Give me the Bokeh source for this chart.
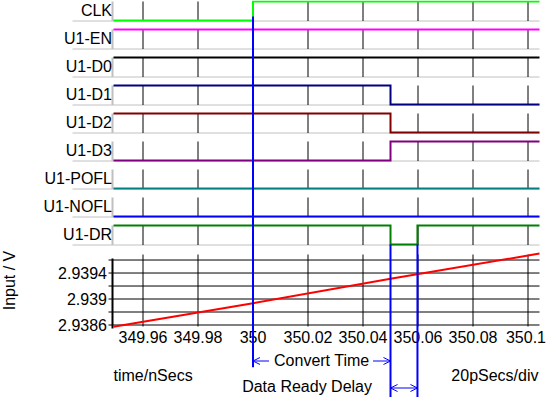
import math
from bokeh.plotting import figure
from bokeh.models import Range1d, Arrow, OpenHead
from bokeh.core.properties import value
from bokeh.embed import file_html
from bokeh.resources import INLINE

# ---------------- data ----------------
T_START, T_END = 349.94927, 350.10418          # visible time window (ns)
X_TICKS = [349.96, 349.98, 350.0, 350.02, 350.04, 350.06, 350.08, 350.1]
X_TICK_LABELS = ["349.96", "349.98", "350", "350.02", "350.04", "350.06", "350.08", "350.1"]

SIGNAL_NAMES = ["CLK", "U1-EN", "U1-D0", "U1-D1", "U1-D2", "U1-D3", "U1-POFL", "U1-NOFL", "U1-DR"]
SIGNAL_COLORS = ["#00ff00", "#ff00ff", "#000000", "#000080", "#800000",
                 "#800080", "#008080", "#0000ff", "#008000"]

# logic traces: edge times (ns) and the level held from that time on
CLK_TIMES = [349.94927, 350.0];             CLK_LEVELS = [0, 1]
EN_TIMES = [349.94927];                     EN_LEVELS = [1]
D0_TIMES = [349.94927];                     D0_LEVELS = [1]
D1_TIMES = [349.94927, 350.05];             D1_LEVELS = [1, 0]
D2_TIMES = [349.94927, 350.05];             D2_LEVELS = [1, 0]
D3_TIMES = [349.94927, 350.05];             D3_LEVELS = [0, 1]
POFL_TIMES = [349.94927];                   POFL_LEVELS = [0]
NOFL_TIMES = [349.94927];                   NOFL_LEVELS = [0]
DR_TIMES = [349.94927, 350.05, 350.0598];   DR_LEVELS = [1, 0, 1]

SIGNAL_TIMES = [CLK_TIMES, EN_TIMES, D0_TIMES, D1_TIMES, D2_TIMES,
                D3_TIMES, POFL_TIMES, NOFL_TIMES, DR_TIMES]
SIGNAL_LEVELS = [CLK_LEVELS, EN_LEVELS, D0_LEVELS, D1_LEVELS, D2_LEVELS,
                 D3_LEVELS, POFL_LEVELS, NOFL_LEVELS, DR_LEVELS]

# analog input (V)
INPUT_TIME = [349.94927, 350.0, 350.05, 350.1, 350.10418]
INPUT_V = [2.938574, 2.938935, 2.939311, 2.939669, 2.939700]
V_LO, V_HI = 2.938577, 2.939685                 # analog window
V_GRID = [2.9386, 2.9388, 2.939, 2.9392, 2.9394, 2.9396]
V_TICKS = [2.9386, 2.939, 2.9394]
V_TICK_LABELS = ["2.9386", "2.939", "2.9394"]

CURSOR_TIMES = [350.0, 350.05, 350.0598]        # CLK edge, DR fall, DR rise

# ---------------- layout (canvas pixels) ----------------
W, H = 546, 397
PX_T0, PX_T1 = 113.0, 539.0
ROW_BASE_PX = [20.5 + 28 * i for i in range(9)]
ROW_SWING_PX = 19.0
ROW_LOW_GAP_PX = 0.5
PX_V_LO, PX_V_HI = 326.0, 254.0

FONT = value("Liberation Sans")
FSIZE = value("16px")
GRAY = "#c0c0c0"
BLUE = "#0000ff"

kx = (PX_T1 - PX_T0) / (T_END - T_START)
ky = (PX_V_LO - PX_V_HI) / (V_HI - V_LO)


def t_at(px):
    return T_START + (px - PX_T0) / kx


def v_at(py):
    return V_LO + (PX_V_LO - py) / ky


p = figure(width=W, height=H,
           x_range=Range1d(t_at(0), t_at(W)),
           y_range=Range1d(v_at(H), v_at(0)),
           output_backend="svg", toolbar_location=None, tools="",
           x_axis_location=None, y_axis_location=None,
           min_border=0, outline_line_color=None,
           background_fill_color="white", border_fill_color="white",
           styles={"position": "absolute", "left": "0px", "top": "0px"})
p.grid.visible = False

ranges = {}
for i in range(len(SIGNAL_NAMES)):
    low_px = ROW_BASE_PX[i] - ROW_LOW_GAP_PX
    ranges[f"row{i}"] = Range1d(start=(low_px - H) / ROW_SWING_PX, end=low_px / ROW_SWING_PX)
p.extra_y_ranges = ranges
BASE_LEVEL = -ROW_LOW_GAP_PX / ROW_SWING_PX
LABEL_LEVEL = (10.5 - ROW_LOW_GAP_PX) / ROW_SWING_PX

txt = dict(text_font=FONT, text_font_size=FSIZE, text_color="black")

# ---------- logic rows ----------
for i, name in enumerate(SIGNAL_NAMES):
    rn = f"row{i}"
    p.segment(x0=[t_at(72)], y0=[BASE_LEVEL], x1=[T_END], y1=[BASE_LEVEL],
              line_color=GRAY, line_width=1, y_range_name=rn)
    p.segment(x0=[t_at(112)], y0=[1], x1=[t_at(112)], y1=[BASE_LEVEL],
              line_color=GRAY, line_width=2, y_range_name=rn)
    n = len(X_TICKS)
    p.segment(x0=X_TICKS, y0=[1] * n, x1=X_TICKS, y1=[BASE_LEVEL] * n,
              line_color="black", line_width=1, y_range_name=rn)
    p.text(x=[t_at(111.5)], y=[LABEL_LEVEL], text=[name], text_align="right",
           text_baseline="middle", y_range_name=rn, **txt)

for i, name in enumerate(SIGNAL_NAMES):
    rn = f"row{i}"
    xs = list(SIGNAL_TIMES[i]) + [T_END]
    ys = list(SIGNAL_LEVELS[i]) + [SIGNAL_LEVELS[i][-1]]
    p.step(x=xs, y=ys, mode="after", line_color=SIGNAL_COLORS[i], line_width=2,
           line_join="miter", y_range_name=rn)

# ---------- analog panel ----------
n = len(V_GRID)
p.segment(x0=[t_at(108)] * n, y0=V_GRID, x1=[T_END] * n, y1=V_GRID,
          line_color="black", line_width=1)
n = len(X_TICKS)
p.segment(x0=X_TICKS, y0=[V_LO] * n, x1=X_TICKS, y1=[V_HI] * n,
          line_color="black", line_width=1)
p.segment(x0=[t_at(112)], y0=[v_at(258)], x1=[t_at(112)], y1=[v_at(328)],
          line_color="black", line_width=2)
p.line(x=INPUT_TIME, y=INPUT_V, line_color="#ff0000", line_width=2)

p.text(x=[t_at(106.5)] * len(V_TICKS), y=V_TICKS, text=V_TICK_LABELS,
       text_align="right", text_baseline="middle", **txt)
# x tick labels (the last one is kept inside the canvas edge)
p.text(x=X_TICKS[:-1], y=[v_at(336)] * (len(X_TICKS) - 1), text=X_TICK_LABELS[:-1],
       text_align="center", text_baseline="middle", **txt)
p.text(x=[t_at(W - 0.5)], y=[v_at(336)], text=X_TICK_LABELS[-1:],
       text_align="right", text_baseline="middle", **txt)
p.text(x=[t_at(8.5)], y=[v_at(280)], text=["Input / V"], angle=math.pi / 2,
       text_align="center", text_baseline="middle", **txt)
p.text(x=[t_at(113)], y=[v_at(375)], text=["time/nSecs"],
       text_align="left", text_baseline="middle", **txt)
p.text(x=[t_at(538)], y=[v_at(375)], text=["20pSecs/div"],
       text_align="right", text_baseline="middle", **txt)

# ---------- cursors ----------
p.segment(x0=[CURSOR_TIMES[0]], y0=[v_at(16)], x1=[CURSOR_TIMES[0]], y1=[v_at(366.7)],
          line_color=BLUE, line_width=2)
dr_low_px = ROW_BASE_PX[8] - ROW_LOW_GAP_PX
p.segment(x0=CURSOR_TIMES[1:], y0=[v_at(dr_low_px)] * 2, x1=CURSOR_TIMES[1:], y1=[v_at(H)] * 2,
          line_color=BLUE, line_width=2)

# annotations
mid = (CURSOR_TIMES[0] + CURSOR_TIMES[1]) / 2
p.text(x=[mid], y=[v_at(360)], text=["Convert Time"], text_align="center",
       text_baseline="middle", **txt)
y_ct = v_at(360.5)
p.add_layout(Arrow(end=OpenHead(size=7, line_color=BLUE, line_width=1),
                   x_start=t_at(268.5), y_start=y_ct, x_end=CURSOR_TIMES[0], y_end=y_ct,
                   line_color=BLUE, line_width=1))
p.add_layout(Arrow(end=OpenHead(size=7, line_color=BLUE, line_width=1),
                   x_start=t_at(372.5), y_start=y_ct, x_end=CURSOR_TIMES[1], y_end=y_ct,
                   line_color=BLUE, line_width=1))
p.text(x=[t_at(371.5)], y=[v_at(386)], text=["Data Ready Delay"], text_align="right",
       text_baseline="middle", **txt)
y_dr = v_at(387.5)
p.add_layout(Arrow(start=OpenHead(size=7, line_color=BLUE, line_width=1),
                   end=OpenHead(size=7, line_color=BLUE, line_width=1),
                   x_start=CURSOR_TIMES[1], y_start=y_dr, x_end=CURSOR_TIMES[2], y_end=y_dr,
                   line_color=BLUE, line_width=1))

open("out.html", "w").write(file_html(p, INLINE))
